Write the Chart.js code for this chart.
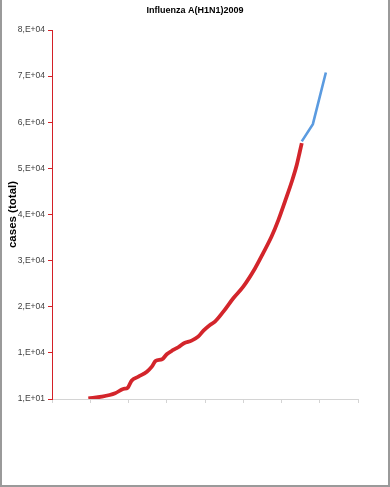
<!DOCTYPE html>
<html>
<head>
<meta charset="utf-8">
<script src="https://cdn.jsdelivr.net/npm/chart.js@4.4.1/dist/chart.umd.min.js"></script>
<style>
  html, body { margin: 0; padding: 0; background: #fff; }
  #wrap { position: relative; width: 390px; height: 487px; }
  #frame {
    position: absolute; left: 0; top: 0; width: 390px; height: 487px;
    box-sizing: border-box; pointer-events: none;
    border-left: 2px solid #9a9a9a; border-right: 2px solid #9a9a9a;
    border-bottom: 2px solid #9a9a9a;
  }
</style>
</head>
<body>
<div id="wrap">
  <canvas id="myChart" width="390" height="487"></canvas>
  <div id="frame"></div>
</div>
<script>
// days since start of the axis (x), cumulative cases (y)
var redDays = [9.5, 13.0, 16.5, 18.6, 19.8, 20.8, 22.6, 24.8, 26.1, 27.1, 28.8, 30.0,
  31.7, 33.0, 34.5, 36.5, 38.2, 39.6, 41.3, 42.6, 44.8, 47.4, 50.0, 53.1,
  55.2, 57.4, 59.2, 60.9, 62.7, 64.0, 64.8, 65.3];
var redCases = [160, 510, 1250, 2180, 2460, 3980, 4850, 5930, 7020, 8260, 8620, 9710,
  10640, 11230, 12100, 12660, 13530, 14830, 16070, 16780, 18950, 21860, 24380, 28370,
  31630, 35230, 38850, 42820, 47160, 50790, 53670, 55500];
var blueDays = [65.3, 68.2, 71.6];
var blueCases = [55870, 59600, 70800];

var yMin = 10;
var yMax = 80010;
var yStep = 10000;

function toPoints(xs, ys) {
  return xs.map(function (x, i) { return { x: x, y: ys[i] }; });
}

// Excel style "1,E+04"
function sciLabel(v) {
  var e = Math.floor(Math.log10(v));
  var m = Math.round(v / Math.pow(10, e));
  return m + ",E+" + (e < 10 ? "0" + e : e);
}

var ctx = document.getElementById("myChart").getContext("2d");
var myChart = new Chart(ctx, {
  type: "line",
  data: {
    datasets: [
      {
        data: toPoints(redDays, redCases),
        borderColor: "#d3252b",
        borderWidth: 3.8,
        pointRadius: 0,
        tension: 0.3,
        cubicInterpolationMode: "monotone",
        fill: false,
      },
      {
        data: toPoints(blueDays, blueCases),
        borderColor: "#5b9be0",
        borderWidth: 2.6,
        pointRadius: 0,
        tension: 0,
        fill: false,
      },
    ],
  },
  options: {
    responsive: false,
    animation: false,
    layout: { padding: 0 },
    plugins: {
      legend: { display: false },
      tooltip: { enabled: false },
      title: {
        display: true,
        text: "Influenza A(H1N1)2009",
        color: "#000",
        font: { family: "Liberation Sans", size: 9, weight: "bold" },
        padding: { top: 5.6, bottom: 13.6 },
      },
    },
    scales: {
      x: {
        type: "linear",
        min: 0,
        max: 80,
        ticks: { display: false, stepSize: 10 },
        grid: { display: true, drawOnChartArea: false, drawTicks: true, tickLength: 4, color: "#d4d4d4" },
        border: { display: true, color: "#d4d4d4", width: 1 },
        afterFit: function (scale) { scale.height = 88; },
      },
      y: {
        type: "linear",
        min: yMin,
        max: yMax,
        ticks: {
          stepSize: yStep,
          padding: 3,
          color: "#404040",
          font: { family: "Liberation Sans", size: 8.5 },
          callback: function (v) { return sciLabel(v); },
        },
        grid: { display: true, drawOnChartArea: false, drawTicks: true, tickLength: 4, color: "#d42027" },
        border: { display: true, color: "#d42027", width: 1 },
        title: {
          display: true,
          text: "cases (total)",
          color: "#000",
          font: { family: "Liberation Sans", size: 11.5, weight: "bold" },
          padding: { top: 6, bottom: 0 },
        },
        afterFit: function (scale) { scale.width = 52; },
      },
      // empty space on the right of the plot, keeps the title centred on the page
      yRight: {
        type: "linear",
        position: "right",
        min: yMin,
        max: yMax,
        ticks: { display: false },
        grid: { display: false },
        border: { display: false },
        afterFit: function (scale) { scale.width = 32; },
      },
    },
  },
});
</script>
</body>
</html>
